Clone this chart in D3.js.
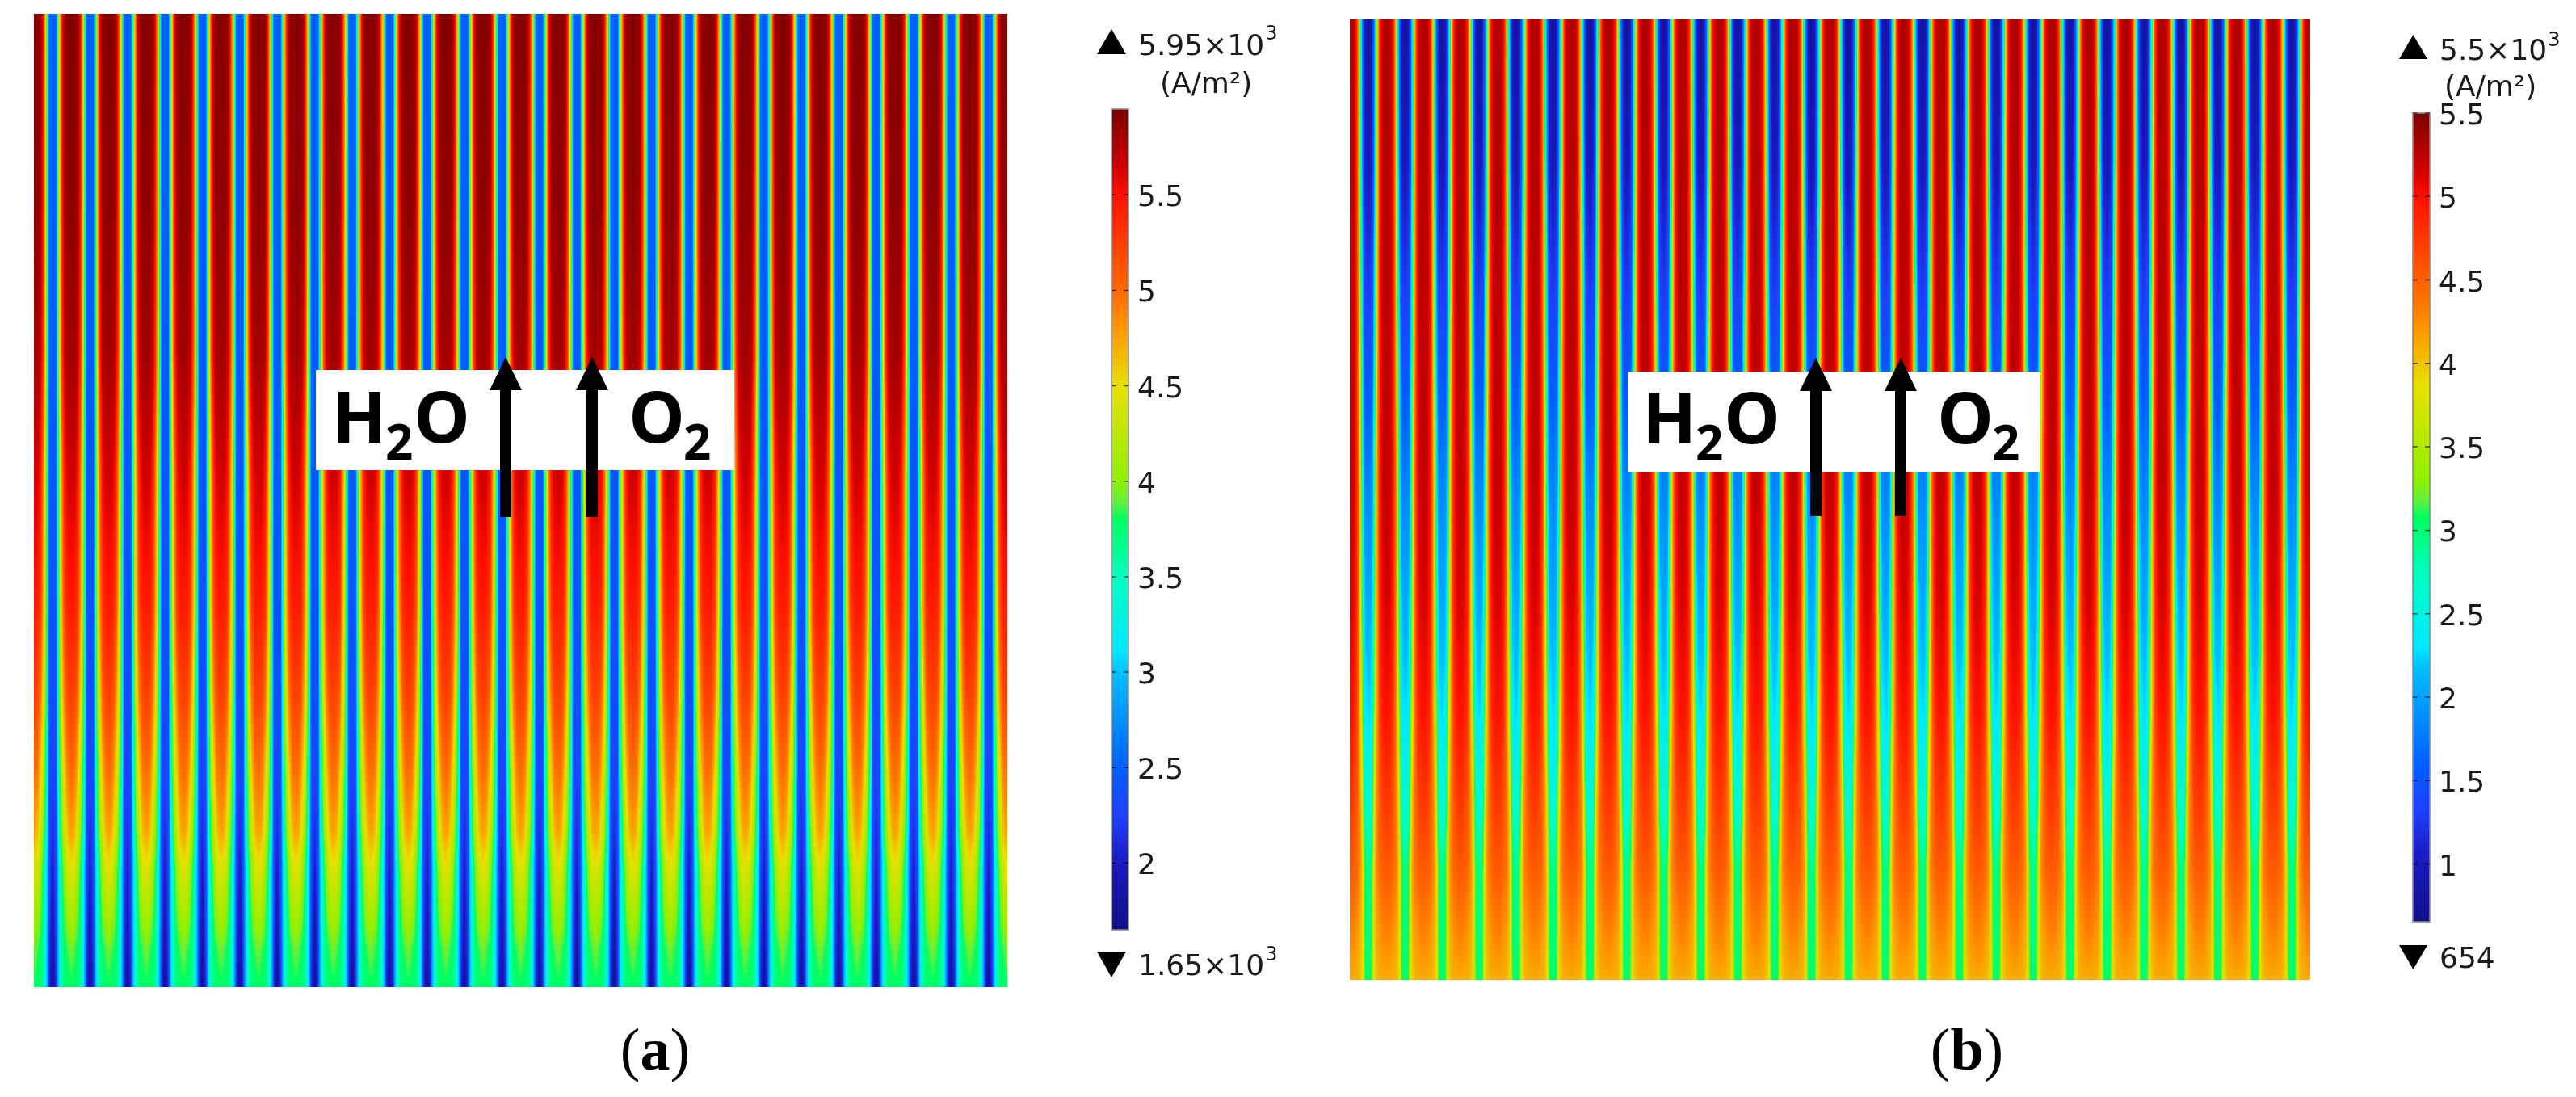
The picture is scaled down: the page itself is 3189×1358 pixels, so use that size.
<!DOCTYPE html>
<html><head><meta charset="utf-8">
<script src="https://cdnjs.cloudflare.com/ajax/libs/d3/7.8.5/d3.min.js"></script>
<style>
html,body{margin:0;padding:0;background:#fff;width:3189px;height:1358px;overflow:hidden}
canvas,svg{position:absolute;left:0;top:0}
text{fill:#1a1a1a;font-family:"DejaVu Sans"}
</style></head><body>
<canvas id="heat" width="3189" height="1358"></canvas>
<svg id="chart" width="3189" height="1358" xmlns="http://www.w3.org/2000/svg"></svg>
<script>
// Colour table: position along colour bar (0 = bottom, 1 = top)
const colorPositions = [0, .081, .14, .198, .314, .34, .43, .5, .52, .547, .663, .74, .78, .895, .93, .97, 1];
const colorValues = ["#10108a","#1a1ac0","#2040ff","#0060ff","#00c0ff","#00e8ff","#00ffc0","#00ff60","#60f040","#90f000","#e8e000","#ff9000","#ff6a00","#ff1000","#d00000","#a00000","#7a0000"];

// Distance from channel centre (0) to rib centre (1)
const phases = [0, .18, .24, .30, .36, .43, .50, .64, .80, 1];

// Panel (a) current density (10^3 A/m^2), read by position down the plot
const rowsA = [0, .2, .35, .48, .61, .7, .78, .84, .88, .92, .96, 1];
const fieldA = [
 [2.5,2.5,3.1,3.8,4.5,4.9,5.5,5.85,5.9,5.92],
 [2.48,2.5,3.1,3.8,4.45,4.9,5.4,5.8,5.87,5.88],
 [2.45,2.48,3.1,3.75,4.4,4.8,5.3,5.7,5.8,5.82],
 [2.4,2.45,3.05,3.6,4.1,4.5,4.9,5.45,5.62,5.65],
 [2.38,2.43,3.0,3.55,4.0,4.4,4.75,5.25,5.42,5.45],
 [2.32,2.4,2.95,3.45,3.85,4.2,4.5,4.95,5.2,5.25],
 [2.25,2.35,2.9,3.3,3.65,3.95,4.2,4.6,4.92,5.0],
 [2.12,2.3,2.8,3.15,3.45,3.75,4.0,4.3,4.65,4.78],
 [2.0,2.3,2.7,3.0,3.2,3.5,3.75,4.05,4.35,4.45],
 [1.92,2.25,2.7,3.0,3.2,3.45,3.7,3.9,4.1,4.2],
 [1.85,2.2,2.65,2.95,3.15,3.4,3.65,3.78,3.85,3.95],
 [1.7,2.15,2.65,2.95,3.15,3.4,3.6,3.72,3.76,3.78]
];

// Panel (b) current density (10^3 A/m^2)
const rowsB = [0, .15, .3, .48, .6, .72, .82, .885, .95, 1];
const fieldB = [
 [.75,1.0,1.3,1.6,2.2,2.8,3.9,4.95,5.25,5.3],
 [.95,1.1,1.35,1.7,2.3,3.0,3.95,4.95,5.25,5.28],
 [1.3,1.4,1.6,2.1,2.7,3.4,4.1,4.95,5.22,5.25],
 [1.8,1.85,2.0,2.5,3.05,3.8,4.35,4.95,5.18,5.22],
 [2.0,2.1,2.35,2.85,3.3,3.9,4.3,4.9,5.1,5.15],
 [2.25,2.35,2.75,3.2,3.6,4.0,4.3,4.75,4.95,5.0],
 [2.6,2.7,3.1,3.6,3.95,4.2,4.35,4.55,4.7,4.75],
 [2.9,3.05,3.4,3.85,4.05,4.25,4.35,4.45,4.52,4.55],
 [2.95,3.05,3.4,3.8,4.0,4.1,4.15,4.22,4.3,4.33],
 [3.0,3.1,3.5,3.8,3.95,4.0,4.05,4.1,4.1,4.12]
];

const ticksA = [2, 2.5, 3, 3.5, 4, 4.5, 5, 5.5];
const ticksB = [1, 1.5, 2, 2.5, 3, 3.5, 4, 4.5, 5, 5.5];
const rangeA = [1.65, 5.95];
const rangeB = [.654, 5.5];
const channelCount = 26;

const panels = [
 {rows:rowsA, field:fieldA, range:rangeA, ticks:ticksA,
  x:[42,1247], y:[17,1222], bar:{x:1376,w:21,top:135,bottom:1151},
  upTri:[1358,1394,36,67], downTri:[1358,1394,1178,1210],
  maxLabel:{x:1409,y:68,t:"5.95×10",sup:"3",supY:49},
  minLabel:{x:1409,y:1207,t:"1.65×10",sup:"3",supY:1189},
  unit:{x:1436,y:115}, labelX:1408,
  white:[391,909,458,582], arrows:[626,733], arrowY:[442,483,640],
  h2o:418, o2:782, textDy:0, caption:{x:811,t:"a"}},
 {rows:rowsB, field:fieldB, range:rangeB, ticks:ticksB,
  x:[1671,2860], y:[24,1213], bar:{x:2987,w:21,top:140,bottom:1141},
  upTri:[2970,3005,43,73], downTri:[2970,3005,1170,1200],
  maxLabel:{x:3020,y:74,t:"5.5×10",sup:"3",supY:57},
  minLabel:{x:3020,y:1198,t:"654"},
  unit:{x:3026,y:119}, labelX:3019,
  white:[2016,2526,460,584], arrows:[2248,2353], arrowY:[443,484,639],
  h2o:2040, o2:2402, textDy:1, caption:{x:2435,t:"b"}}
];

const colormap = d3.scaleLinear().domain(colorPositions).range(colorValues).interpolate(d3.interpolateRgb);
const lutN = 2048;
const lut = d3.range(lutN).map(i => { const c = d3.rgb(colormap(i/(lutN-1))); return [c.r,c.g,c.b]; });

const ctx = document.getElementById("heat").getContext("2d");
const svg = d3.select("#chart");
const defs = svg.append("defs");

panels.forEach((p, pi) => {
  // ---- heat map ----
  const W = p.x[1]-p.x[0], H = p.y[1]-p.y[0];
  const norm = d3.scaleLinear().domain(p.range).range([0,1]).clamp(true);
  const rowScale = d3.scaleLinear().domain([0,1]).range(p.y);
  const yPix = p.rows.map(rowScale);
  const period = d3.scaleLinear().domain([0,channelCount]).range(p.x);
  const phaseOf = x => { // x in px -> distance from channel centre
    const u = period.invert(x);
    return Math.abs((u - Math.floor(u)) - .5) * 2;
  };
  const colScales = phases.map((_,j) => d3.scaleLinear().domain(yPix).range(p.field.map(r=>r[j])));
  const xs = d3.range(W).map(i => phaseOf(p.x[0]+i+.5));
  const img = ctx.createImageData(W,H);
  for (let r=0;r<H;r++){
    const prof = d3.scaleLinear().domain(phases).range(colScales.map(s=>s(p.y[0]+r+.5)));
    for (let i=0;i<W;i++){
      const t = norm(prof(xs[i]));
      const c = lut[Math.round(t*(lutN-1))];
      const k = 4*(r*W+i);
      img.data[k]=c[0];img.data[k+1]=c[1];img.data[k+2]=c[2];img.data[k+3]=255;
    }
  }
  ctx.putImageData(img,p.x[0],p.y[0]);

  // ---- overlay ----
  const g = svg.append("g");
  g.append("rect").attr("x",p.white[0]).attr("y",p.white[2])
    .attr("width",p.white[1]-p.white[0]).attr("height",p.white[3]-p.white[2]).attr("fill","#fff");
  const lbl = (x,y,t,size) => g.append("text").attr("x",x).attr("y",y).text(t)
     .style("font-family","'Open Sans'").style("font-weight",700).style("font-size",size+"px").style("fill","#000");
  const base = 548+p.textDy, sub = 569+p.textDy;
  lbl(p.h2o-7,base,"H",88); lbl(p.h2o+59,sub,"2",60); lbl(p.h2o+94,base,"O",88);
  lbl(p.o2-4,base,"O",88); lbl(p.o2+64,sub,"2",60);
  p.arrows.forEach(ax=>{
    const [tip,hb,bot]=p.arrowY;
    g.append("path").attr("fill","#000")
     .attr("d",`M${ax},${tip}L${ax+20},${hb}L${ax+7},${hb}L${ax+7},${bot}L${ax-7},${bot}L${ax-7},${hb}L${ax-20},${hb}Z`);
  });

  // ---- colour bar ----
  const gid = "cb"+pi;
  const grad = defs.append("linearGradient").attr("id",gid).attr("x1",0).attr("x2",0).attr("y1",1).attr("y2",0);
  colorPositions.forEach((s,i)=>grad.append("stop").attr("offset",s).attr("stop-color",colorValues[i]));
  const b = p.bar;
  const yScale = d3.scaleLinear().domain(p.range).range([b.bottom,b.top]);
  g.append("rect").attr("x",b.x).attr("y",b.top).attr("width",b.w).attr("height",b.bottom-b.top)
    .attr("fill",`url(#${gid})`).attr("stroke","#8a8a8a").attr("stroke-width",1.6);
  const axis = d3.axisRight(yScale).tickValues(p.ticks).tickSize(0).tickPadding(0).tickFormat(d=>String(d));
  const ag = g.append("g").attr("transform",`translate(${p.labelX},0)`).call(axis);
  ag.select(".domain").remove();
  ag.selectAll("text").attr("x",0).attr("dy","0.375em").attr("fill",null)
    .style("font-size","36px").style("font-family","'DejaVu Sans'").style("fill","#1a1a1a");
  g.selectAll(null).data(p.ticks).join("path")
    .attr("d",d=>{const y=yScale(d);return `M${b.x},${y}h6M${b.x+b.w-6},${y}h6`;})
    .attr("stroke","#000").attr("stroke-opacity",.65).attr("stroke-width",1.5).attr("fill","none");

  // ---- max/min markers ----
  const [ux0,ux1,uy0,uy1]=p.upTri, [dx0,dx1,dy0,dy1]=p.downTri;
  g.append("path").attr("fill","#000").attr("d",`M${(ux0+ux1)/2},${uy0}L${ux1},${uy1}L${ux0},${uy1}Z`);
  g.append("path").attr("fill","#000").attr("d",`M${dx0},${dy0}L${dx1},${dy0}L${(dx0+dx1)/2},${dy1}Z`);
  [p.maxLabel,p.minLabel].forEach(l=>{
    const t = g.append("text").attr("x",l.x).attr("y",l.y).style("font-size","36px").text(l.t);
    if (l.sup){
      const w = t.node().getComputedTextLength();
      g.append("text").attr("x",l.x+w+1).attr("y",l.supY).style("font-size","24px").text(l.sup);
    }
  });
  g.append("text").attr("x",p.unit.x).attr("y",p.unit.y).style("font-size","36px").text("(A/m²)");

  // ---- caption ----
  const cap = g.append("text").attr("x",p.caption.x).attr("y",1324).attr("text-anchor","middle")
    .style("font-family","'Liberation Serif'").style("font-size","74px").style("fill","#000");
  cap.append("tspan").text("(");
  cap.append("tspan").style("font-weight",700).text(p.caption.t);
  cap.append("tspan").text(")");
});
</script>
</body></html>
